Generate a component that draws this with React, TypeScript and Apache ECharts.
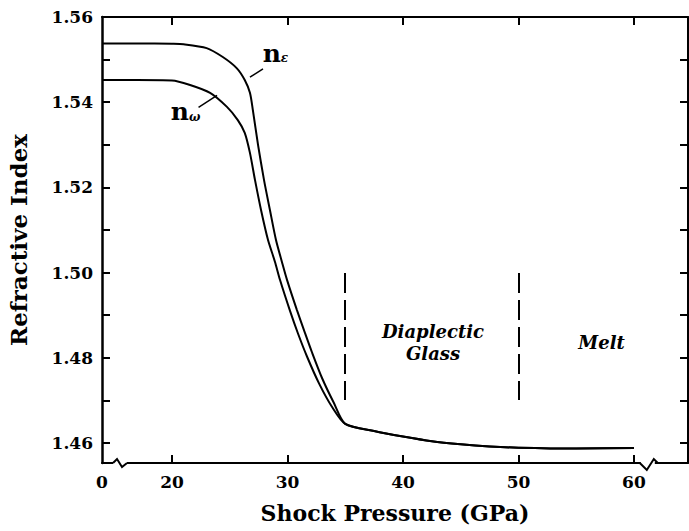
import React, { useEffect, useRef } from "react";
import * as echarts from "echarts";

// Shock pressure (GPa) and refractive indices
const pressureE = [0, 10, 20, 21, 23, 24.4, 25.6, 26.3, 26.75, 27.0, 27.45, 27.97, 28.48, 29.0, 29.52, 29.96, 30.82, 31.52, 32.12, 33.0, 34.0, 35.0, 37.5, 40, 42.5, 45, 47.5, 50, 55, 60];
const nEpsilon = [1.5538, 1.5538, 1.5537, 1.5536, 1.5527, 1.5506, 1.548, 1.5452, 1.5422, 1.5382, 1.53, 1.5217, 1.5147, 1.5077, 1.5025, 1.4983, 1.4912, 1.4858, 1.4813, 1.4752, 1.4695, 1.4645, 1.4628, 1.4615, 1.4604, 1.4597, 1.4592, 1.4589, 1.4587, 1.4588];
const pressureW = [0, 10, 20, 21.5, 23.3, 24.76, 25.7, 26.3, 26.75, 27.19, 27.71, 28.31, 28.92, 29.35, 30.22, 30.91, 31.69, 32.73, 33.85, 35.0, 37.5, 40, 42.5, 45, 47.5, 50, 55, 60];
const nOmega = [1.5452, 1.5452, 1.5451, 1.5441, 1.5422, 1.5389, 1.5358, 1.5328, 1.5281, 1.5217, 1.5147, 1.5077, 1.5025, 1.4983, 1.491, 1.4857, 1.4803, 1.474, 1.4685, 1.4645, 1.4628, 1.4615, 1.4604, 1.4597, 1.4592, 1.4589, 1.4587, 1.4588];

const xTickLabels = [0, 20, 30, 40, 50, 60];
const xTicks = [20, 30, 40, 50, 60];
const yTickLabels = [1.46, 1.48, 1.5, 1.52, 1.54, 1.56];
const yTicks = [1.46, 1.47, 1.48, 1.49, 1.5, 1.51, 1.52, 1.53, 1.54, 1.55];
const phaseBoundaries = [35, 50];
const regionLabels = [
  { lines: ["Diaplectic", "Glass"], x: 42.6, y: 1.4836 },
  { lines: ["Melt"], x: 57.2, y: 1.4835 },
];

// broken axis: 0..20 GPa compressed
const BREAK_START = 13.94;
const toAxis = (g: number) => (g >= 20 ? g : BREAK_START + (g / 20) * (20 - BREAK_START));
const X_MAX = 64.68;
const Y_MIN = 1.4553;
const Y_MAX = 1.56;

const FONT = "DejaVu Serif";

export default function App() {
  const ref = useRef<HTMLDivElement>(null);
  useEffect(() => {
    if (!ref.current) return;
    document.body.style.margin = "0";
    const chart = echarts.init(ref.current, null, { renderer: "svg" });
    const lineStyle = { color: "#000", width: 2 };
    chart.setOption({
      animation: false,
      backgroundColor: "#fff",
      grid: { left: 102, right: 1, top: 17, bottom: 68, containLabel: false, outerBoundsMode: "none" },
      xAxis: [
        {
          type: "value",
          min: BREAK_START,
          max: X_MAX,
          name: "Shock Pressure (GPa)",
          nameLocation: "middle",
          nameGap: 39,
          nameTextStyle: { fontFamily: FONT, fontWeight: "bold", fontSize: 22, color: "#000" },
          axisLine: { lineStyle: { color: "#000", width: 2 } },
          axisTick: { inside: true, length: 8, lineStyle: { color: "#000", width: 2 }, customValues: xTicks },
          axisLabel: {
            customValues: xTickLabels.map(toAxis),
            formatter: (v: number) => (v < 20 ? "0" : String(Math.round(v))),
            fontFamily: FONT,
            fontWeight: "bold",
            fontSize: 17,
            color: "#000",
            margin: 10,
          },
          splitLine: { show: false },
        },
        {
          type: "value",
          position: "top",
          min: BREAK_START,
          max: X_MAX,
          axisLine: { lineStyle: { color: "#000", width: 2 } },
          axisTick: { inside: true, length: 8, lineStyle: { color: "#000", width: 2 }, customValues: xTicks },
          axisLabel: { show: false },
          splitLine: { show: false },
        },
      ],
      yAxis: [
        {
          type: "value",
          min: Y_MIN,
          max: Y_MAX,
          name: "Refractive Index",
          nameLocation: "middle",
          nameGap: 72,
          nameTextStyle: { fontFamily: FONT, fontWeight: "bold", fontSize: 23, color: "#000" },
          axisLine: { lineStyle: { color: "#000", width: 2.5 } },
          axisTick: { inside: true, length: 8, lineStyle: { color: "#000", width: 2 }, customValues: yTicks },
          axisLabel: {
            customValues: yTickLabels,
            formatter: (v: number) => v.toFixed(2),
            fontFamily: FONT,
            fontWeight: "bold",
            fontSize: 17,
            color: "#000",
            margin: 9,
          },
          splitLine: { show: false },
        },
        {
          type: "value",
          position: "right",
          min: Y_MIN,
          max: Y_MAX,
          axisLine: { lineStyle: { color: "#000", width: 2 } },
          axisTick: { inside: true, length: 8, lineStyle: { color: "#000", width: 2 }, customValues: yTicks },
          axisLabel: { show: false },
          splitLine: { show: false },
        },
      ],
      series: [
        {
          type: "line",
          name: "n_epsilon",
          data: pressureE.map((g, i) => [toAxis(g), nEpsilon[i]]),
          showSymbol: false,
          smooth: 0.25,
          lineStyle,
          z: 3,
          markLine: {
            silent: true,
            symbol: "none",
            label: { show: false },
            lineStyle: { color: "#000", width: 2, type: [20, 7] },
            data: phaseBoundaries.map((b) => [
              { coord: [b, 1.4999] },
              { coord: [b, 1.4701] },
            ]),
          },
        },
        {
          type: "line",
          name: "n_omega",
          data: pressureW.map((g, i) => [toAxis(g), nOmega[i]]),
          showSymbol: false,
          smooth: 0.25,
          lineStyle,
          z: 3,
          markLine: {
            silent: true,
            symbol: "none",
            label: { show: false },
            lineStyle: { color: "#000", width: 1.5, type: "solid" },
            data: [
              [{ coord: [26.75, 1.5459] }, { coord: [27.88, 1.5478] }],
              [{ coord: [22.3, 1.5388] }, { coord: [23.9, 1.5416] }],
            ],
          },
        },
      ],
    });

    const px = (x: number, y: number) => chart.convertToPixel({ gridIndex: 0 }, [x, y]) as number[];
    const graphics: any[] = [];
    // axis breaks on the bottom axis
    const breaks = [
      { x: 15.5, pts: [[-7, 0], [-3, -4], [2, 4], [7, 0]] },
      { x: 61.2, pts: [[-8, 0], [-1, 7], [6, -4], [10, 0]] },
    ];
    breaks.forEach((b) => {
      const [cx, cy] = px(b.x, Y_MIN);
      graphics.push({ type: "rect", shape: { x: cx - 7, y: cy - 2, width: 14, height: 4 }, style: { fill: "#fff" }, z: 10 });
      graphics.push({
        type: "polyline",
        shape: { points: b.pts.map((p) => [cx + p[0], cy + p[1]]) },
        style: { stroke: "#000", lineWidth: 2, fill: "none" },
        z: 11,
      });
    });
    // curve labels
    const labE = px(27.85, 1.5515);
    const labW = px(19.9, 1.5378);
    const rich = {
      n: { fontFamily: FONT, fontWeight: "bold", fontSize: 25, fill: "#000" },
      s: { fontFamily: FONT, fontWeight: "bold", fontStyle: "italic", fontSize: 12, fill: "#000", padding: [10, 0, 0, 0] },
    };
    graphics.push({ type: "text", x: labE[0], y: labE[1], style: { text: "{n|n}{s|ε}", rich, verticalAlign: "middle" }, z: 12 });
    graphics.push({ type: "text", x: labW[0], y: labW[1], style: { text: "{n|n}{s|ω}", rich, verticalAlign: "middle" }, z: 12 });
    regionLabels.forEach((r) => {
      const [cx, cy] = px(r.x, r.y);
      graphics.push({
        type: "text",
        x: cx,
        y: cy,
        style: {
          text: r.lines.join("\n"),
          fontFamily: FONT,
          fontWeight: "bold",
          fontStyle: "italic",
          fontSize: 18,
          lineHeight: 22,
          fill: "#000",
          align: "center",
          verticalAlign: "middle",
        },
        z: 12,
      });
    });
    chart.setOption({ graphic: graphics });
    return () => chart.dispose();
  }, []);
  return <div ref={ref} style={{ width: 689, height: 531 }} />;
}
